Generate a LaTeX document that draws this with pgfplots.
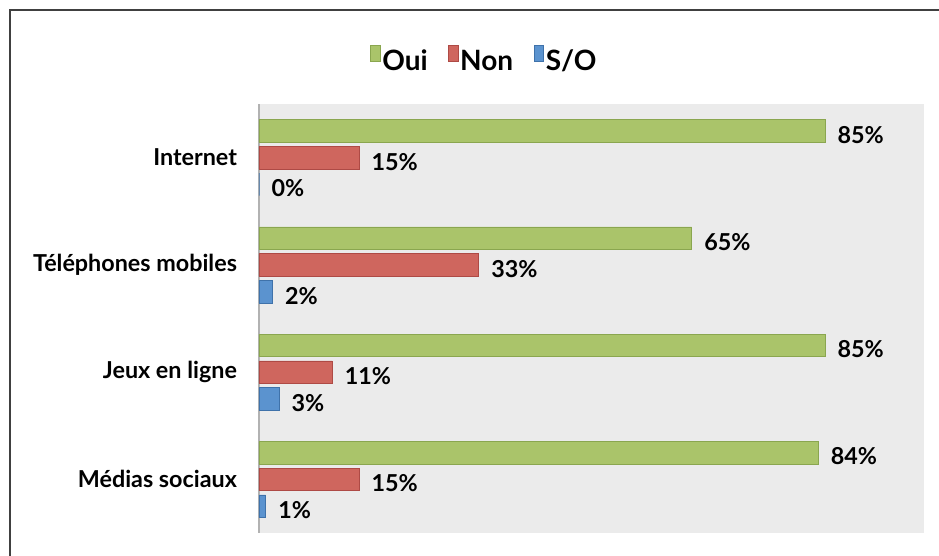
\documentclass[border=0pt]{standalone}
\usepackage{pgfplots}
\pgfplotsset{compat=1.18}
\usepackage{fontspec}
\setmainfont{Lato}
\definecolor{cOui}{HTML}{AAC46A}
\definecolor{cOuiD}{HTML}{8AA64F}
\definecolor{cNon}{HTML}{CF665E}
\definecolor{cNonD}{HTML}{AE4A45}
\definecolor{cSO}{HTML}{5B93CF}
\definecolor{cSOD}{HTML}{3F72AA}
\definecolor{bg}{HTML}{EBEBEB}
\begin{document}
\begin{tikzpicture}
\useasboundingbox (-194.25pt,-17.25pt) rectangle (510pt,399.75pt);
\draw[line width=1.5pt, color=black!75] (-186.75pt,-40pt) -- (-186.75pt,392.25pt) -- (540pt,392.25pt);
\begin{axis}[
  scale only axis,
  width=498.75pt, height=321.75pt,
  xmin=0, xmax=99.9,
  ymin=-0.5, ymax=3.5,
  xbar, bar width=0.21, bar shift=0pt,
  axis background/.style={fill=bg},
  axis x line=none,
  axis y line*=left,
  axis line style={draw=black!30, line width=1pt, -},
  ytick={0,1,2,3},
  yticklabels={Médias sociaux, Jeux en ligne, Téléphones mobiles, Internet},
  major tick length=0pt,
  yticklabel style={font=\fontsize{17.5}{20}\selectfont\bfseries, xshift=-13pt},
  /pgf/number format/assume math mode=true,
  nodes near coords={\pgfmathprintnumber{\pgfplotspointmeta}\%},
  point meta=explicit,
  every node near coord/.append style={font=\fontsize{17.5}{20}\selectfont\bfseries, anchor=west, xshift=6pt, yshift=-3pt},
  legend columns=-1,
  legend style={draw=none, fill=none, at={(0.339,1.1026)}, anchor=center,
    font=\fontsize{21}{25}\selectfont\bfseries,
    nodes={inner xsep=1.5pt}},
  legend image code/.code={\draw[#1] (0pt,0pt) rectangle (7pt,12pt);},
]
\addplot[fill=cOui, draw=cOuiD] coordinates {(85,3.25) [85] (65,2.25) [65] (85,1.25) [85] (84,0.25) [84]};
\addplot[fill=cNon, draw=cNonD] coordinates {(15,3) [15] (33,2) [33] (11,1) [11] (15,0) [15]};
\addplot[fill=cSO, draw=cSOD] coordinates {(0,2.75) [0] (2,1.75) [2] (3,0.75) [3] (1,-0.25) [1]};
\legend{Oui\rule{14pt}{0pt}, Non\rule{14pt}{0pt}, S/O}
\end{axis}
\end{tikzpicture}
\end{document}
